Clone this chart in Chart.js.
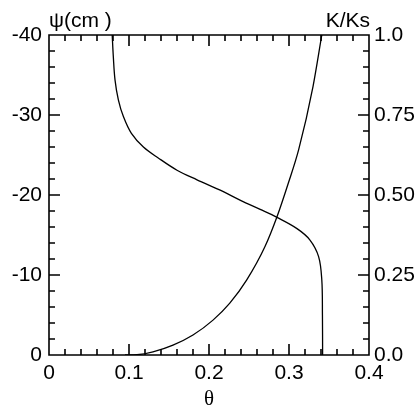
<!DOCTYPE html>
<html>
<head>
<meta charset="utf-8">
<script src="https://cdn.jsdelivr.net/npm/chart.js@4.4.0/dist/chart.umd.min.js"></script>
<style>
html,body{margin:0;padding:0;background:#fff;}
#wrap{width:419px;height:412px;position:relative;}
</style>
</head>
<body>
<div id="wrap"><canvas id="c" width="419" height="412"></canvas></div>
<script>
// Retention curve: water content theta vs pressure head psi (cm)
const thetaRet = [0.0790,0.0804,0.0825,0.0867,0.0930,0.1030,0.1180,0.1370,0.1600,0.1850,0.2140,0.2400,0.2640,0.2850,0.3100,0.3260,0.3370,0.3410,0.3418,0.3420];
const psiRet   = [-40,-37.3,-34.4,-31.9,-29.8,-27.7,-26.0,-24.6,-23.1,-21.9,-20.6,-19.3,-18.2,-17.2,-15.8,-14.4,-12.3,-9.4,-5.0,0];
// Relative conductivity K/Ks vs theta
const thetaK = [0.095,0.110,0.130,0.155,0.180,0.205,0.226,0.247,0.270,0.285,0.299,0.312,0.330,0.341];
const kRel   = [0.000,0.001,0.010,0.031,0.0625,0.109,0.162,0.234,0.339,0.432,0.536,0.641,0.839,1.000];

const xTicks = [0,0.1,0.2,0.3,0.4];
const psiTicks = [0,-10,-20,-30,-40];
const kTicks = [0.0,0.25,0.50,0.75,1.0];
const kTickLabels = ['0.0','0.25','0.50','0.75','1.0'];

const retData = thetaRet.map((t,i)=>({x:t,y:psiRet[i]}));
const kData = thetaK.map((t,i)=>({x:t,y:kRel[i]}));

const FONT = 'Liberation Sans, Arial, Helvetica, sans-serif';

const frameTicks = {
  id:'frameTicks',
  afterDraw(chart){
    const ctx = chart.ctx;
    const a = chart.chartArea;
    const x = chart.scales.x, yl = chart.scales.y, yr = chart.scales.y2;
    const L = Math.round(a.left), R = Math.round(a.right), T = Math.round(a.top), B = Math.round(a.bottom);
    ctx.save();
    ctx.setLineDash([]);
    ctx.globalAlpha = 1;
    ctx.strokeStyle = '#000000';
    ctx.lineWidth = 1.6;
    ctx.lineCap = 'butt';
    ctx.beginPath();
    ctx.moveTo(L,T); ctx.lineTo(R,T); ctx.lineTo(R,B); ctx.lineTo(L,B); ctx.closePath();
    for(let i=0;i<=20;i++){
      const px = Math.round(x.getPixelForValue(i*0.02));
      const len = (i%5===0)?11:6;
      ctx.moveTo(px,B); ctx.lineTo(px,B-len);
      ctx.moveTo(px,T); ctx.lineTo(px,T+len);
    }
    for(let i=0;i<=20;i++){
      const py = Math.round(yl.getPixelForValue(-i*2));
      const len = (i%5===0)?11:6;
      ctx.moveTo(L,py); ctx.lineTo(L+len,py);
    }
    for(let i=0;i<=20;i++){
      const py = Math.round(yr.getPixelForValue(i*0.05));
      const len = (i%5===0)?11:6;
      ctx.moveTo(R,py); ctx.lineTo(R-len,py);
    }
    ctx.stroke();
    ctx.fillStyle = '#000';
    ctx.font = '21px ' + FONT;
    ctx.textBaseline = 'alphabetic';
    ctx.textAlign = 'left';
    ctx.fillText('\u03C8(cm )', a.left, a.top-8);
    ctx.textAlign = 'right';
    ctx.fillText('K/Ks', a.right+1, a.top-8);
    ctx.restore();
  }
};

new Chart(document.getElementById('c'), {
  type:'scatter',
  data:{
    datasets:[
      {label:'psi', data:retData, yAxisID:'y', showLine:true, borderColor:'#000', borderWidth:1.3, pointRadius:0, tension:0.35, fill:false},
      {label:'K', data:kData, yAxisID:'y2', showLine:true, borderColor:'#000', borderWidth:1.3, pointRadius:0, cubicInterpolationMode:'monotone', fill:false}
    ]
  },
  plugins:[frameTicks],
  options:{
    responsive:false,
    animation:false,
    layout:{padding:{top:35,left:0,right:0,bottom:0}},
    plugins:{legend:{display:false}, tooltip:{enabled:false}},
    scales:{
      x:{
        type:'linear', min:0, max:0.4,
        grid:{display:false, drawTicks:false},
        border:{display:false},
        afterBuildTicks(s){ s.ticks = xTicks.map(v=>({value:v})); },
        ticks:{color:'#000', font:{family:FONT,size:21}, padding:6, maxRotation:0,
          callback:(v)=> (Math.round(v*10)/10).toString()},
        title:{display:true, text:'\u03B8', color:'#000', font:{family:'Liberation Serif, Times New Roman, serif', size:21}, padding:{top:0,bottom:0}},
        afterFit(s){ s.height = 57; }
      },
      y:{
        type:'linear', position:'left', min:-40, max:0, reverse:true,
        grid:{display:false, drawTicks:false},
        border:{display:false},
        afterBuildTicks(s){ s.ticks = psiTicks.map(v=>({value:v})); },
        ticks:{color:'#000', font:{family:FONT,size:21}, padding:7,
          callback:(v)=> v.toString()},
        afterFit(s){ s.width = 49; }
      },
      y2:{
        type:'linear', position:'right', min:0, max:1,
        grid:{display:false, drawTicks:false},
        border:{display:false},
        afterBuildTicks(s){ s.ticks = kTicks.map(v=>({value:v})); },
        ticks:{color:'#000', font:{family:FONT,size:21}, padding:5,
          callback:(v)=> { const i = kTicks.findIndex(k=>Math.abs(k-v)<1e-9); return i>=0?kTickLabels[i]:''; }},
        afterFit(s){ s.width = 50; }
      }
    }
  }
});
</script>
</body>
</html>
